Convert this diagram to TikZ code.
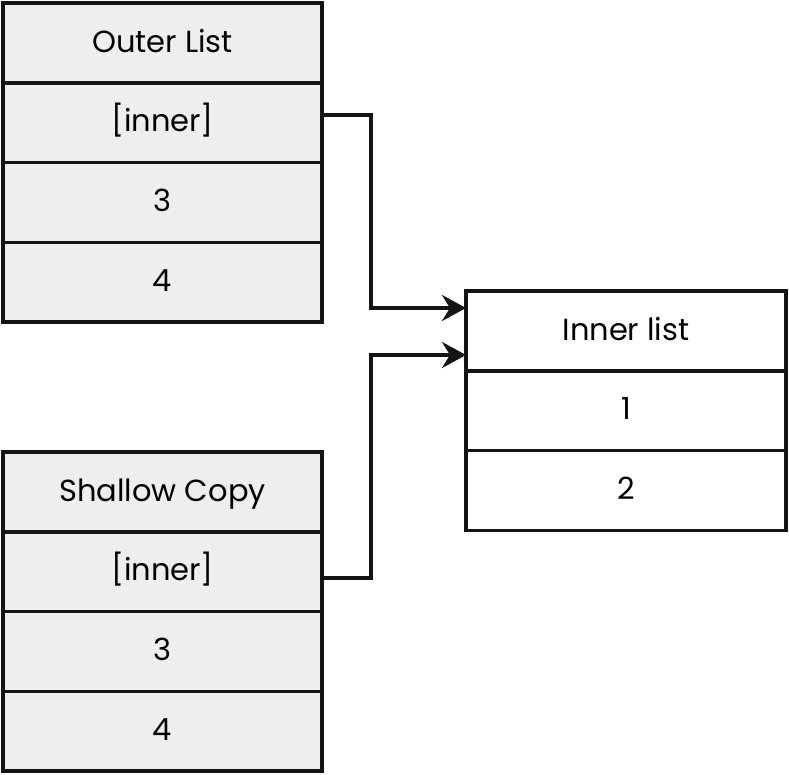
\documentclass[tikz,border=0pt]{standalone}
\usepackage{fontspec}
\setmainfont{Poppins}
\usetikzlibrary{positioning,arrows.meta}
\definecolor{cellgray}{HTML}{EEEEEE}
\definecolor{inkline}{HTML}{141414}
\begin{document}
\begin{tikzpicture}[x=1pt, y=-1pt,
  cell/.style={draw=inkline, line width=3.5pt, fill=cellgray, minimum width=319pt,
    minimum height=79.7pt, inner sep=0pt, outer sep=0pt, text height=20pt, text depth=2pt,
    font=\fontsize{30.5}{36}\selectfont},
  whitecell/.style={cell, fill=white, minimum width=320pt},
  link/.style={draw=inkline, line width=4pt, -{Stealth[length=24pt, width=26pt, inset=8pt]}}]
\useasboundingbox (0,0) rectangle (789,774);

% Outer list
\node[cell] (outer) at (162.5,43) {Outer List};
\node[cell, below=0pt of outer] (outerref) {[inner]};
\node[cell, below=0pt of outerref] (outer3) {3};
\node[cell, below=0pt of outer3] (outer4) {4};

% Shallow copy
\node[cell] (shallow) at (162.5,492) {Shallow Copy};
\node[cell, below=0pt of shallow] (shallowref) {[inner]};
\node[cell, below=0pt of shallowref] (shallow3) {3};
\node[cell, below=0pt of shallow3] (shallow4) {4};

% Inner list
\node[whitecell] (inner) at (626,331) {Inner list};
\node[whitecell, below=0pt of inner] (inner1) {1};
\node[whitecell, below=0pt of inner1] (inner2) {2};

% References
\draw[link] ([yshift=8pt]outerref.east) -- ++(49,0) |- ([yshift=23pt]inner.west);
\draw[link] ([yshift=-6pt]shallowref.east) -- ++(49,0) |- ([yshift=-24pt]inner.west);
\end{tikzpicture}
\end{document}
